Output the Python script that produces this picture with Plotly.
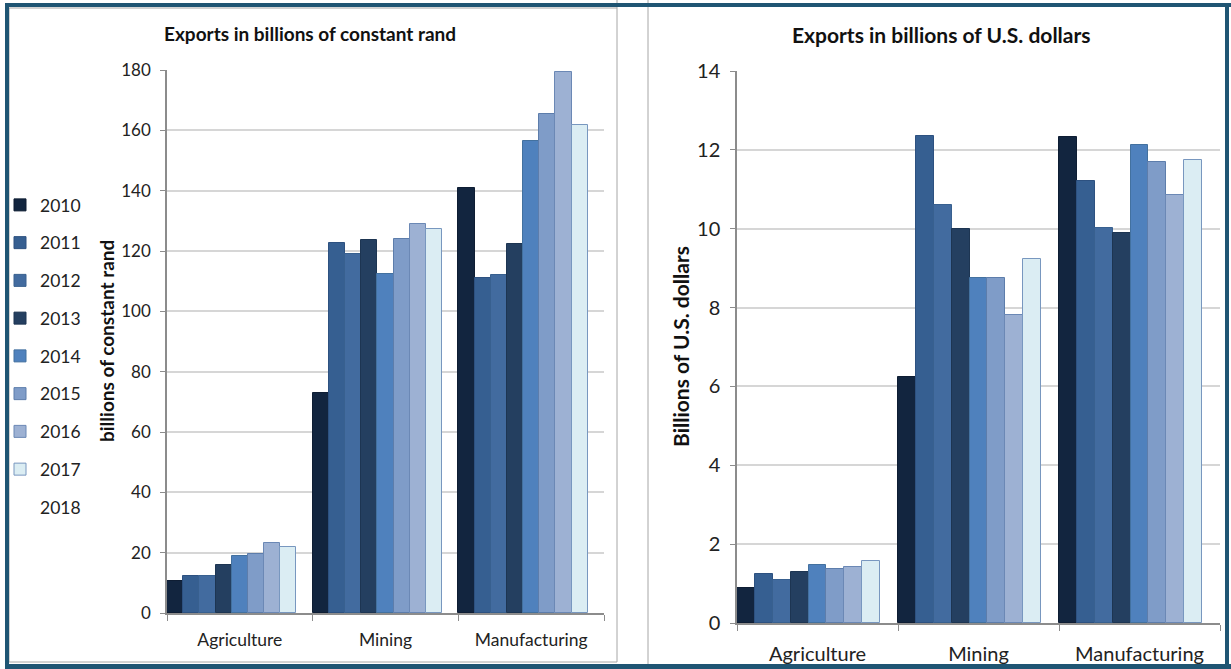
import plotly.graph_objects as go

# Export sectors and reporting years
sectors = ["Agriculture", "Mining", "Manufacturing"]
years = ["2010", "2011", "2012", "2013", "2014", "2015", "2016", "2017", "2018"]

# Exports in billions of constant rand, one list per year (sector order as above)
rand_2010 = [10.5, 73.0, 140.8]
rand_2011 = [12.4, 122.5, 111.1]
rand_2012 = [12.4, 119.0, 112.2]
rand_2013 = [16.0, 123.5, 122.2]
rand_2014 = [19.0, 112.5, 156.4]
rand_2015 = [19.6, 124.0, 165.5]
rand_2016 = [23.1, 129.0, 179.3]
rand_2017 = [21.8, 127.3, 161.9]
rand_2018 = [None, None, None]

# Exports in billions of U.S. dollars
usd_2010 = [0.89, 6.24, 12.32]
usd_2011 = [1.24, 12.35, 11.22]
usd_2012 = [1.09, 10.60, 10.01]
usd_2013 = [1.29, 9.99, 9.88]
usd_2014 = [1.47, 8.74, 12.12]
usd_2015 = [1.37, 8.74, 11.69]
usd_2016 = [1.41, 7.80, 10.86]
usd_2017 = [1.57, 9.23, 11.75]
usd_2018 = [None, None, None]

rand_series = [rand_2010, rand_2011, rand_2012, rand_2013, rand_2014,
               rand_2015, rand_2016, rand_2017, rand_2018]
usd_series = [usd_2010, usd_2011, usd_2012, usd_2013, usd_2014,
              usd_2015, usd_2016, usd_2017, usd_2018]

rand_ticks = [0, 20, 40, 60, 80, 100, 120, 140, 160, 180]
usd_ticks = [0, 2, 4, 6, 8, 10, 12, 14]

fills = ["#12253f", "#365f91", "#426b9f", "#243f60", "#4f81bd",
         "#7f9cc8", "#9db1d3", "#dbedf3", "rgba(0,0,0,0)"]
edges = ["#0e1d33", "#2d5180", "#38608f", "#1d3552", "#43719f",
         "#5d7dab", "#6b88b5", "#7897bf", "rgba(0,0,0,0)"]

W, H = 1231, 669
FONT = "Lato, 'Open Sans', sans-serif"


def px_x(v):
    return v / W


def px_y(v):
    return (H - v) / H


fig = go.Figure()

for i, yr in enumerate(years):
    fig.add_trace(go.Bar(
        x=sectors, y=rand_series[i], name=yr, legendgroup=yr,
        marker=dict(color=fills[i], line=dict(color=edges[i], width=1)),
        xaxis="x", yaxis="y", showlegend=True,
    ))
for i, yr in enumerate(years):
    fig.add_trace(go.Bar(
        x=sectors, y=usd_series[i], name=yr, legendgroup=yr,
        marker=dict(color=fills[i], line=dict(color=edges[i], width=1)),
        xaxis="x2", yaxis="y2", showlegend=False,
    ))

line_style = dict(showline=True, linecolor="#8c8c8c", linewidth=1.5,
                  ticks="outside", tickcolor="#8c8c8c",
                  zeroline=False, automargin=False)

fig.update_layout(
    width=W, height=H,
    margin=dict(l=0, r=0, t=0, b=0, pad=0, autoexpand=False),
    paper_bgcolor="white", plot_bgcolor="white",
    barmode="group", bargap=0, bargroupgap=0,
    font=dict(family=FONT, color="#222222"),
    xaxis=dict(domain=[px_x(167), px_x(604)], anchor="y",
               type="category", tickson="boundaries", ticklen=6,
               tickfont=dict(size=17.5, color="#222"), ticklabelstandoff=10,
               showgrid=False, **line_style),
    yaxis=dict(domain=[px_y(613), px_y(70)], anchor="x",
               range=[0, 180], tickvals=rand_ticks, ticklen=5,
               tickfont=dict(size=17, color="#222"),
               ticklabelstandoff=6,
               showgrid=True, gridcolor="#d6d6d6", gridwidth=1.5,
               **line_style),
    xaxis2=dict(domain=[px_x(737), px_x(1220)], anchor="y2",
                type="category", tickson="boundaries", ticklen=6,
                tickfont=dict(size=20, color="#222"), ticklabelstandoff=12,
                showgrid=False, **line_style),
    yaxis2=dict(domain=[px_y(623), px_y(71)], anchor="x2",
                range=[0, 14], tickvals=usd_ticks, ticklen=5,
                tickfont=dict(size=20, color="#222"),
                ticklabelstandoff=6,
                showgrid=True, gridcolor="#d6d6d6", gridwidth=1.5,
                **line_style),
    legend=dict(x=px_x(0), y=px_y(187), xanchor="left", yanchor="top",
                font=dict(size=17.5, color="#222"), tracegroupgap=12,
                bgcolor="rgba(0,0,0,0)", itemclick=False),
)

annotations = [
    dict(text="<b>Exports in billions of constant rand</b>",
         x=px_x(310), y=px_y(33), font=dict(size=19, color="#111")),
    dict(text="<b>Exports in billions of U.S. dollars</b>",
         x=px_x(941), y=px_y(34), font=dict(size=21, color="#111")),
    dict(text="<b>billions of constant rand</b>", textangle=-90,
         x=px_x(106), y=px_y(341), font=dict(size=19, color="#111")),
    dict(text="<b>Billions of U.S. dollars</b>", textangle=-90,
         x=px_x(680), y=px_y(347), font=dict(size=21, color="#111")),
]
for a in annotations:
    a.update(xref="paper", yref="paper", showarrow=False,
             xanchor="center", yanchor="middle")
fig.update_layout(annotations=annotations)

gray = "#a6a6a6"
teal = "#1f5573"
shapes = [
    # panel frames
    dict(type="rect", x0=px_x(9), x1=px_x(617), y0=px_y(662), y1=px_y(8),
         line=dict(color=gray, width=1)),
    dict(type="line", x0=px_x(617), x1=px_x(617), y0=px_y(8), y1=px_y(0),
         line=dict(color=gray, width=1)),
    dict(type="line", x0=px_x(648), x1=px_x(648), y0=px_y(666), y1=px_y(0),
         line=dict(color=gray, width=1)),
    # outer frame
    dict(type="line", x0=px_x(5), x1=px_x(1231), y0=px_y(5), y1=px_y(5),
         line=dict(color=teal, width=4)),
    dict(type="line", x0=px_x(7), x1=px_x(7), y0=px_y(3), y1=px_y(669),
         line=dict(color=teal, width=4)),
    dict(type="line", x0=px_x(1227), x1=px_x(1227), y0=px_y(3), y1=px_y(669),
         line=dict(color=teal, width=4)),
    dict(type="line", x0=px_x(5), x1=px_x(1231), y0=px_y(666.5), y1=px_y(666.5),
         line=dict(color=teal, width=5)),
]
for s in shapes:
    s.update(xref="paper", yref="paper", layer="above")
fig.update_layout(shapes=shapes)

fig.write_html("out.html")
